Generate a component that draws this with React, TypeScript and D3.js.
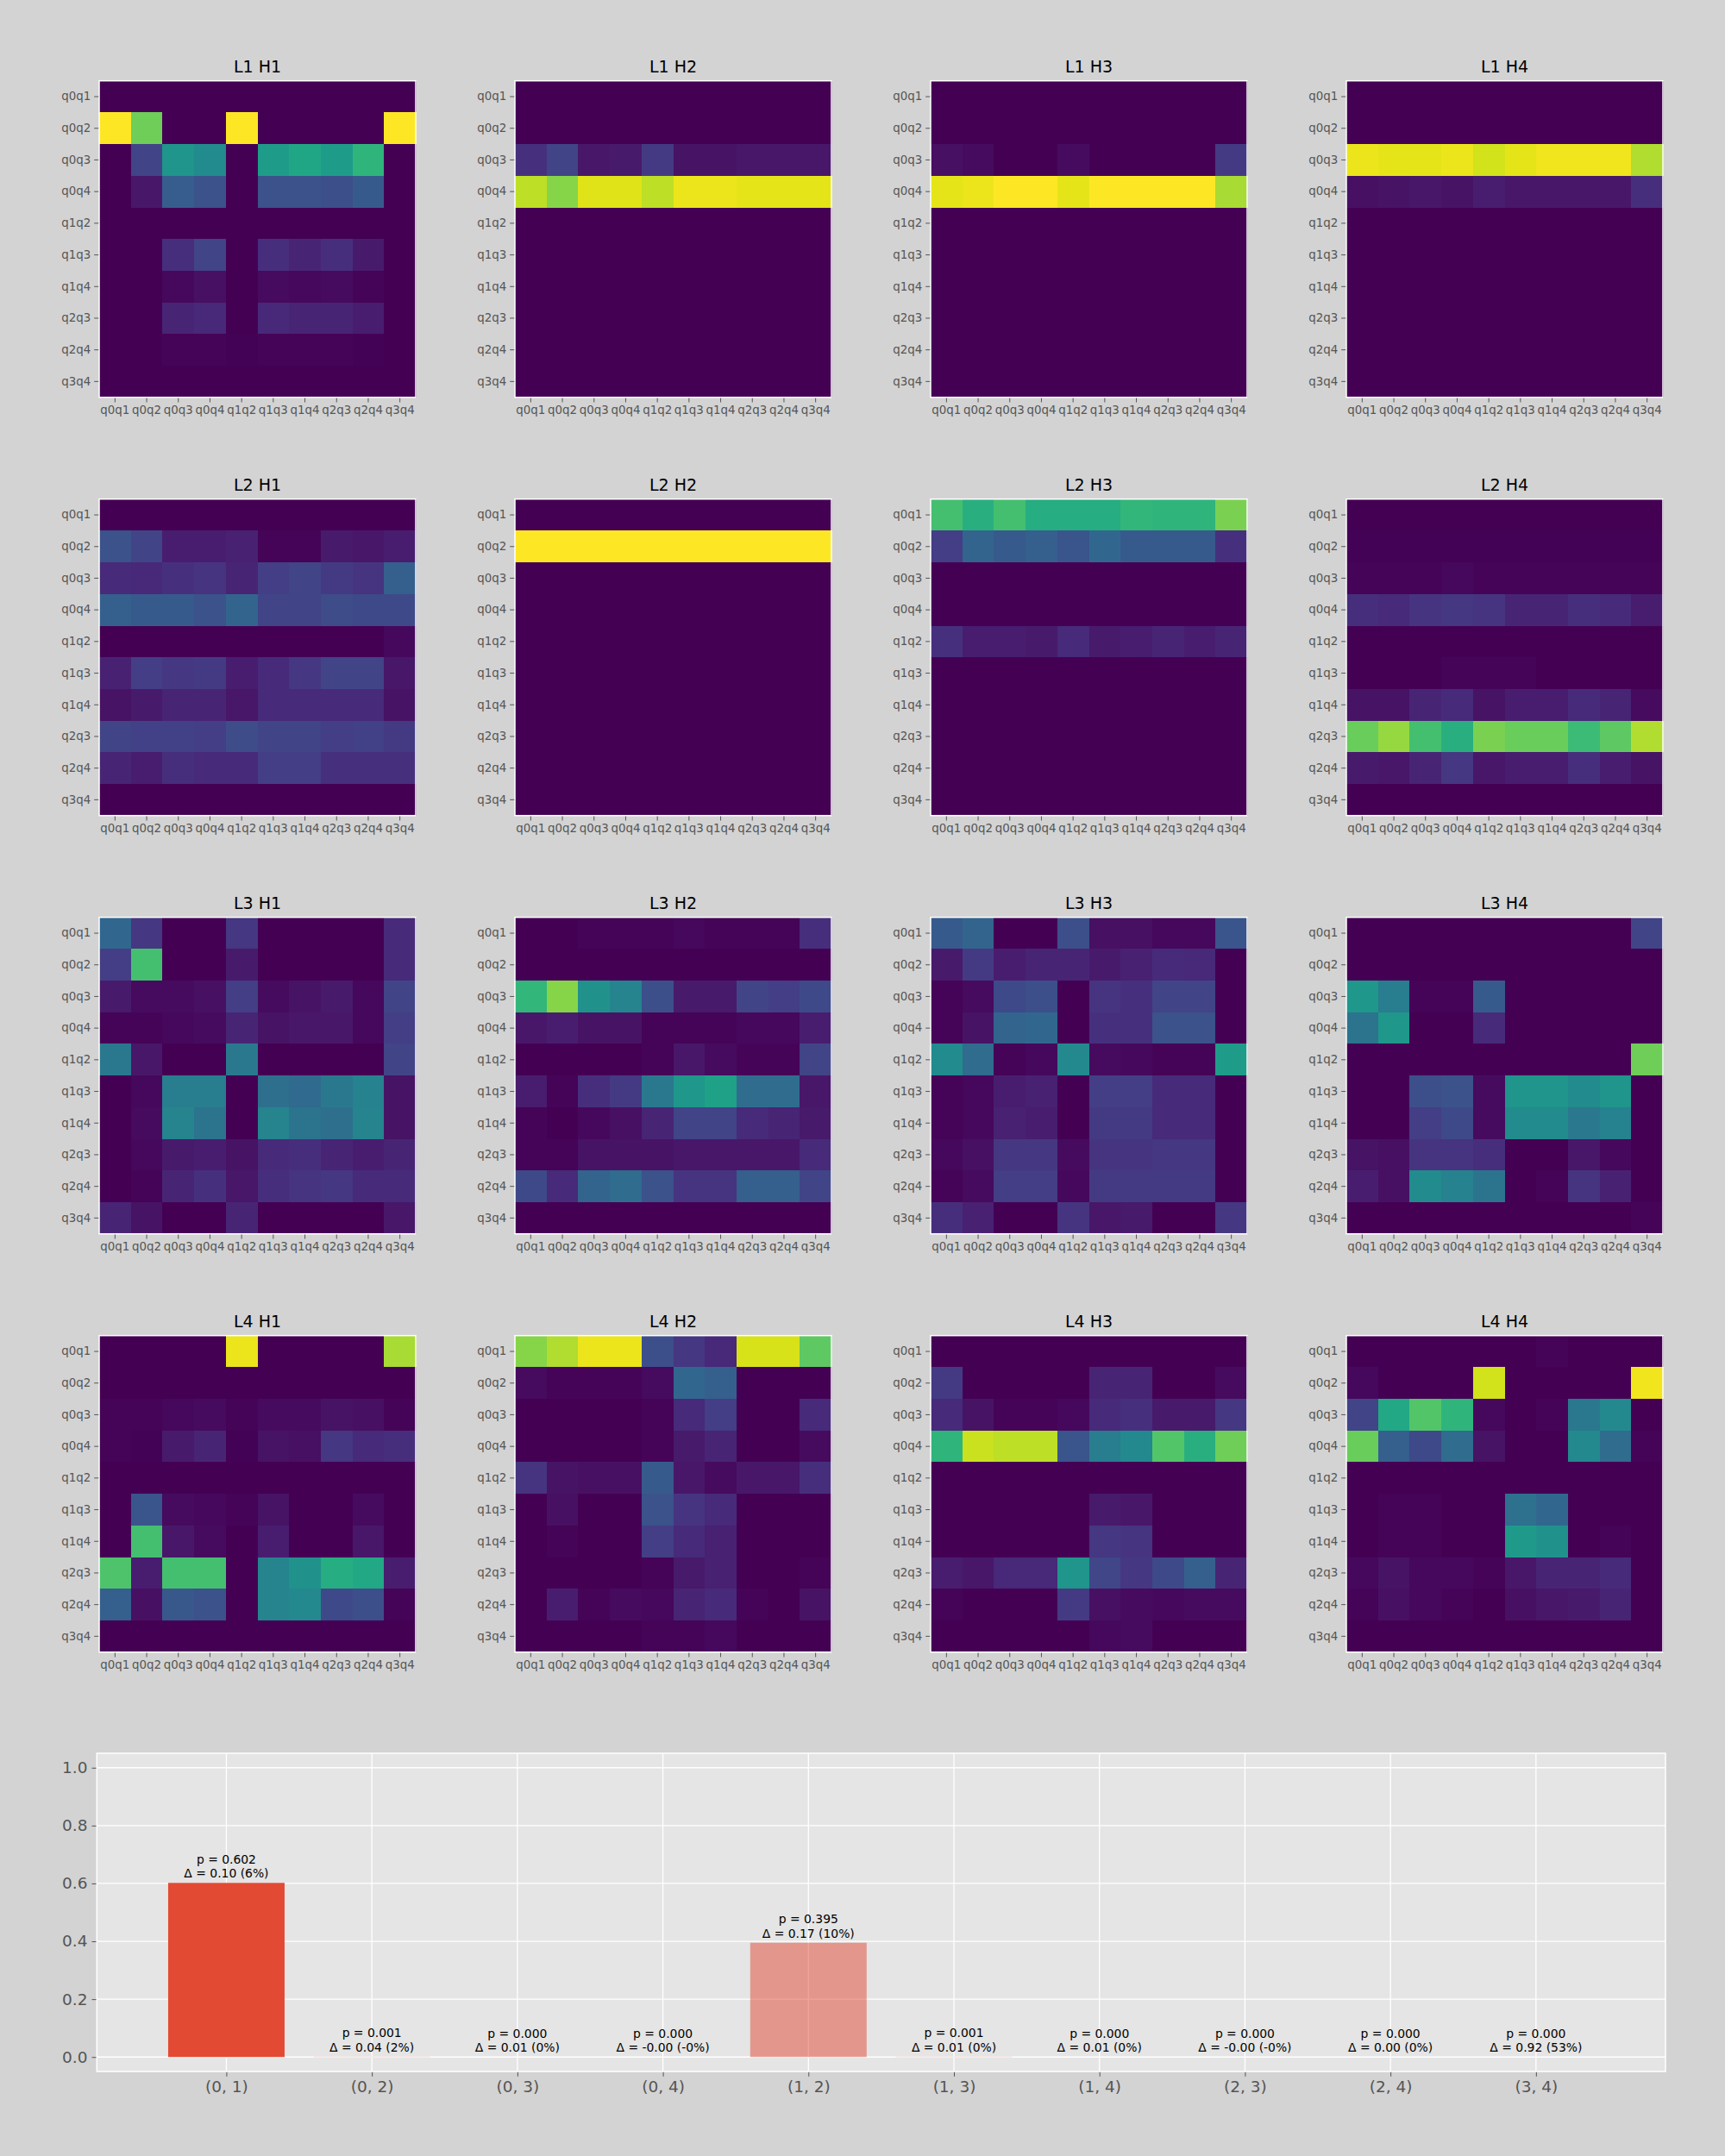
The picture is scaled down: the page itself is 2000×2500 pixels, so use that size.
import React, { useEffect, useRef } from 'react';
import * as d3 from 'd3';

// qubit pair labels, used on both heatmap axes
const pairs = ['q0q1', 'q0q2', 'q0q3', 'q0q4', 'q1q2', 'q1q3', 'q1q4', 'q2q3', 'q2q4', 'q3q4'];

const l1h1 = [
  [0, 0, 0, 0, 0, 0, 0, 0, 0, 0],
  [1.0, 0.78, 0, 0, 1.0, 0, 0, 0, 0, 1.0],
  [0, 0.2, 0.52, 0.48, 0, 0.55, 0.59, 0.55, 0.65, 0],
  [0, 0.06, 0.29, 0.25, 0, 0.25, 0.25, 0.24, 0.28, 0],
  [0, 0, 0, 0, 0, 0, 0, 0, 0, 0],
  [0, 0, 0.13, 0.2, 0, 0.13, 0.1, 0.13, 0.07, 0],
  [0, 0, 0.02, 0.04, 0, 0.03, 0.02, 0.03, 0.01, 0],
  [0, 0, 0.1, 0.11, 0, 0.11, 0.1, 0.1, 0.08, 0],
  [0, 0, 0.01, 0.01, 0.005, 0.01, 0.01, 0.01, 0.005, 0],
  [0, 0, 0, 0, 0, 0, 0, 0, 0, 0],
];
const l1h2 = [
  [0, 0, 0, 0, 0, 0, 0, 0, 0, 0],
  [0, 0, 0, 0, 0, 0, 0, 0, 0, 0],
  [0.14, 0.2, 0.06, 0.07, 0.17, 0.05, 0.05, 0.06, 0.06, 0.06],
  [0.9, 0.82, 0.95, 0.95, 0.9, 0.97, 0.97, 0.96, 0.96, 0.96],
  [0, 0, 0, 0, 0, 0, 0, 0, 0, 0],
  [0, 0, 0, 0, 0, 0, 0, 0, 0, 0],
  [0, 0, 0, 0, 0, 0, 0, 0, 0, 0],
  [0, 0, 0, 0, 0, 0, 0, 0, 0, 0],
  [0, 0, 0, 0, 0, 0, 0, 0, 0, 0],
  [0, 0, 0, 0, 0, 0, 0, 0, 0, 0],
];
const l1h3 = [
  [0, 0, 0, 0, 0, 0, 0, 0, 0, 0],
  [0, 0, 0, 0, 0, 0, 0, 0, 0, 0],
  [0.04, 0.03, 0, 0, 0.03, 0, 0, 0, 0, 0.17],
  [0.96, 0.97, 1.0, 1.0, 0.96, 1.0, 1.0, 1.0, 1.0, 0.87],
  [0, 0, 0, 0, 0, 0, 0, 0, 0, 0],
  [0, 0, 0, 0, 0, 0, 0, 0, 0, 0],
  [0, 0, 0, 0, 0, 0, 0, 0, 0, 0],
  [0, 0, 0, 0, 0, 0, 0, 0, 0, 0],
  [0, 0, 0, 0, 0, 0, 0, 0, 0, 0],
  [0, 0, 0, 0, 0, 0, 0, 0, 0, 0],
];
const l1h4 = [
  [0, 0, 0, 0, 0, 0, 0, 0, 0, 0],
  [0, 0, 0, 0, 0, 0, 0, 0, 0, 0],
  [0.97, 0.96, 0.96, 0.97, 0.93, 0.96, 0.98, 0.98, 0.98, 0.88],
  [0.04, 0.05, 0.06, 0.05, 0.08, 0.06, 0.06, 0.06, 0.06, 0.13],
  [0, 0, 0, 0, 0, 0, 0, 0, 0, 0],
  [0, 0, 0, 0, 0, 0, 0, 0, 0, 0],
  [0, 0, 0, 0, 0, 0, 0, 0, 0, 0],
  [0, 0, 0, 0, 0, 0, 0, 0, 0, 0],
  [0, 0, 0, 0, 0, 0, 0, 0, 0, 0],
  [0, 0, 0, 0, 0, 0, 0, 0, 0, 0],
];
const l2h1 = [
  [0, 0, 0, 0, 0, 0, 0, 0, 0, 0],
  [0.25, 0.2, 0.08, 0.08, 0.09, 0.01, 0.01, 0.07, 0.06, 0.08],
  [0.12, 0.11, 0.14, 0.15, 0.1, 0.18, 0.2, 0.17, 0.15, 0.3],
  [0.3, 0.28, 0.28, 0.25, 0.32, 0.2, 0.2, 0.23, 0.22, 0.22],
  [0, 0, 0, 0, 0, 0, 0, 0, 0, 0.02],
  [0.09, 0.18, 0.16, 0.17, 0.08, 0.12, 0.16, 0.2, 0.2, 0.06],
  [0.05, 0.07, 0.1, 0.1, 0.06, 0.12, 0.12, 0.12, 0.12, 0.05],
  [0.2, 0.19, 0.19, 0.18, 0.23, 0.2, 0.2, 0.18, 0.19, 0.17],
  [0.1, 0.08, 0.13, 0.12, 0.12, 0.18, 0.18, 0.14, 0.14, 0.14],
  [0, 0, 0, 0, 0, 0, 0, 0, 0, 0],
];
const l2h2 = [
  [0, 0, 0, 0, 0, 0, 0, 0, 0, 0],
  [1, 1, 1, 1, 1, 1, 1, 1, 1, 1],
  [0, 0, 0, 0, 0, 0, 0, 0, 0, 0],
  [0, 0, 0, 0, 0, 0, 0, 0, 0, 0],
  [0, 0, 0, 0, 0, 0, 0, 0, 0, 0],
  [0, 0, 0, 0, 0, 0, 0, 0, 0, 0],
  [0, 0, 0, 0, 0, 0, 0, 0, 0, 0],
  [0, 0, 0, 0, 0, 0, 0, 0, 0, 0],
  [0, 0, 0, 0, 0, 0, 0, 0, 0, 0],
  [0, 0, 0, 0, 0, 0, 0, 0, 0, 0],
];
const l2h3 = [
  [0.7, 0.63, 0.7, 0.62, 0.62, 0.62, 0.66, 0.65, 0.65, 0.8],
  [0.18, 0.32, 0.28, 0.3, 0.26, 0.33, 0.28, 0.28, 0.28, 0.14],
  [0, 0, 0, 0, 0, 0, 0, 0, 0, 0],
  [0, 0, 0, 0, 0, 0, 0, 0, 0, 0],
  [0.14, 0.08, 0.08, 0.07, 0.12, 0.07, 0.08, 0.1, 0.08, 0.1],
  [0, 0, 0, 0, 0, 0, 0, 0, 0, 0],
  [0, 0, 0, 0, 0, 0, 0, 0, 0, 0],
  [0, 0, 0, 0, 0, 0, 0, 0, 0, 0],
  [0, 0, 0, 0, 0, 0, 0, 0, 0, 0],
  [0, 0, 0, 0, 0, 0, 0, 0, 0, 0],
];
const l2h4 = [
  [0, 0, 0, 0, 0, 0, 0, 0, 0, 0],
  [0.005, 0.005, 0.005, 0.005, 0.005, 0.005, 0.005, 0.005, 0.005, 0.005],
  [0.01, 0.01, 0.01, 0.02, 0.01, 0.01, 0.01, 0.01, 0.01, 0.01],
  [0.13, 0.12, 0.15, 0.16, 0.15, 0.1, 0.1, 0.13, 0.12, 0.08],
  [0, 0, 0, 0, 0, 0, 0, 0, 0, 0],
  [0, 0, 0, 0.01, 0.01, 0.01, 0, 0, 0, 0],
  [0.05, 0.05, 0.1, 0.12, 0.05, 0.08, 0.08, 0.12, 0.1, 0.03],
  [0.77, 0.84, 0.7, 0.63, 0.8, 0.77, 0.77, 0.68, 0.75, 0.88],
  [0.07, 0.06, 0.1, 0.16, 0.06, 0.08, 0.08, 0.13, 0.08, 0.05],
  [0, 0, 0, 0, 0, 0, 0, 0, 0, 0],
];
const l3h1 = [
  [0.33, 0.16, 0, 0, 0.16, 0, 0, 0, 0, 0.12],
  [0.18, 0.7, 0, 0, 0.07, 0, 0, 0, 0, 0.12],
  [0.07, 0.03, 0.03, 0.04, 0.18, 0.03, 0.05, 0.07, 0.02, 0.2],
  [0.01, 0.01, 0.02, 0.03, 0.1, 0.05, 0.06, 0.06, 0.02, 0.18],
  [0.4, 0.06, 0, 0, 0.4, 0, 0, 0, 0, 0.2],
  [0, 0.02, 0.42, 0.42, 0, 0.36, 0.34, 0.4, 0.44, 0.05],
  [0, 0.03, 0.45, 0.38, 0, 0.45, 0.38, 0.36, 0.45, 0.05],
  [0, 0.02, 0.07, 0.08, 0.05, 0.12, 0.13, 0.1, 0.08, 0.1],
  [0, 0.01, 0.1, 0.14, 0.06, 0.13, 0.15, 0.16, 0.12, 0.12],
  [0.1, 0.05, 0, 0, 0.1, 0, 0, 0, 0, 0.06],
];
const l3h2 = [
  [0, 0, 0.01, 0.01, 0.01, 0.02, 0.01, 0.01, 0.01, 0.13],
  [0, 0, 0, 0, 0, 0, 0, 0, 0, 0],
  [0.66, 0.82, 0.5, 0.45, 0.24, 0.07, 0.07, 0.2, 0.18, 0.22],
  [0.06, 0.08, 0.05, 0.05, 0.01, 0.01, 0.01, 0.02, 0.02, 0.08],
  [0, 0, 0, 0, 0.01, 0.06, 0.03, 0.01, 0.01, 0.2],
  [0.08, 0.01, 0.13, 0.17, 0.4, 0.53, 0.57, 0.35, 0.35, 0.06],
  [0.01, 0, 0.02, 0.04, 0.1, 0.2, 0.2, 0.12, 0.1, 0.07],
  [0.01, 0.01, 0.05, 0.05, 0.05, 0.06, 0.06, 0.06, 0.06, 0.12],
  [0.22, 0.12, 0.32, 0.35, 0.25, 0.15, 0.15, 0.3, 0.3, 0.2],
  [0, 0, 0, 0, 0, 0, 0, 0, 0, 0],
];
const l3h3 = [
  [0.28, 0.32, 0, 0, 0.24, 0.04, 0.04, 0.02, 0.02, 0.26],
  [0.07, 0.17, 0.08, 0.1, 0.1, 0.07, 0.09, 0.12, 0.11, 0],
  [0.01, 0.03, 0.22, 0.24, 0, 0.15, 0.14, 0.2, 0.2, 0],
  [0.01, 0.05, 0.32, 0.33, 0, 0.14, 0.14, 0.25, 0.25, 0],
  [0.48, 0.35, 0.01, 0.02, 0.47, 0.03, 0.02, 0.01, 0.01, 0.55],
  [0.01, 0.02, 0.08, 0.09, 0, 0.18, 0.18, 0.12, 0.12, 0],
  [0.01, 0.02, 0.09, 0.08, 0, 0.17, 0.17, 0.12, 0.12, 0],
  [0.02, 0.04, 0.16, 0.16, 0.03, 0.15, 0.15, 0.16, 0.16, 0],
  [0.01, 0.03, 0.18, 0.18, 0.02, 0.17, 0.17, 0.17, 0.17, 0],
  [0.13, 0.09, 0, 0, 0.15, 0.06, 0.07, 0, 0, 0.16],
];
const l3h4 = [
  [0, 0, 0, 0, 0, 0, 0, 0, 0, 0.2],
  [0, 0, 0, 0, 0, 0, 0, 0, 0, 0],
  [0.53, 0.42, 0.01, 0.01, 0.28, 0, 0, 0, 0, 0],
  [0.38, 0.53, 0, 0, 0.12, 0, 0, 0, 0, 0],
  [0, 0, 0, 0, 0, 0, 0, 0, 0, 0.78],
  [0, 0, 0.24, 0.25, 0.03, 0.52, 0.52, 0.48, 0.52, 0],
  [0, 0, 0.18, 0.22, 0.03, 0.48, 0.48, 0.4, 0.44, 0],
  [0.05, 0.04, 0.15, 0.15, 0.13, 0, 0, 0.06, 0.02, 0],
  [0.08, 0.04, 0.48, 0.44, 0.38, 0, 0.01, 0.15, 0.09, 0],
  [0, 0, 0, 0, 0, 0, 0, 0, 0, 0.01],
];
const l4h1 = [
  [0, 0, 0, 0, 0.97, 0, 0, 0, 0, 0.87],
  [0, 0, 0, 0, 0, 0, 0, 0, 0, 0],
  [0.01, 0.01, 0.02, 0.03, 0.01, 0.03, 0.03, 0.05, 0.04, 0.01],
  [0.01, 0.005, 0.07, 0.1, 0.005, 0.05, 0.04, 0.16, 0.12, 0.13],
  [0, 0, 0, 0, 0, 0, 0, 0, 0, 0],
  [0, 0.26, 0.03, 0.02, 0.01, 0.05, 0, 0, 0.03, 0],
  [0, 0.7, 0.06, 0.03, 0, 0.08, 0, 0, 0.06, 0],
  [0.72, 0.08, 0.7, 0.7, 0, 0.45, 0.5, 0.62, 0.6, 0.08],
  [0.3, 0.04, 0.27, 0.25, 0, 0.45, 0.47, 0.22, 0.24, 0.01],
  [0, 0, 0, 0, 0, 0, 0, 0, 0, 0],
];
const l4h2 = [
  [0.82, 0.88, 0.97, 0.97, 0.24, 0.16, 0.11, 0.94, 0.94, 0.75],
  [0.03, 0.01, 0.01, 0.01, 0.03, 0.33, 0.3, 0, 0, 0],
  [0, 0, 0, 0, 0.01, 0.12, 0.18, 0, 0, 0.12],
  [0, 0, 0, 0, 0.01, 0.07, 0.1, 0, 0, 0.03],
  [0.15, 0.05, 0.04, 0.04, 0.28, 0.06, 0.03, 0.06, 0.06, 0.13],
  [0, 0.04, 0, 0, 0.25, 0.15, 0.12, 0, 0, 0],
  [0, 0.01, 0, 0, 0.18, 0.12, 0.09, 0, 0, 0],
  [0, 0, 0, 0, 0.01, 0.07, 0.09, 0, 0, 0.01],
  [0, 0.08, 0.01, 0.03, 0.02, 0.1, 0.12, 0.01, 0, 0.05],
  [0, 0, 0, 0, 0.01, 0.01, 0.02, 0, 0, 0],
];
const l4h3 = [
  [0, 0, 0, 0, 0, 0, 0, 0, 0, 0],
  [0.17, 0, 0, 0, 0, 0.1, 0.1, 0, 0, 0.03],
  [0.12, 0.05, 0.01, 0.01, 0.02, 0.12, 0.14, 0.07, 0.07, 0.16],
  [0.65, 0.92, 0.9, 0.9, 0.26, 0.42, 0.47, 0.73, 0.63, 0.78],
  [0, 0, 0, 0, 0, 0, 0, 0, 0, 0],
  [0, 0, 0, 0, 0, 0.07, 0.06, 0, 0, 0],
  [0, 0, 0, 0, 0, 0.16, 0.15, 0, 0, 0],
  [0.08, 0.06, 0.11, 0.11, 0.52, 0.21, 0.16, 0.22, 0.3, 0.1],
  [0.01, 0, 0, 0, 0.17, 0.04, 0.03, 0.02, 0.03, 0.03],
  [0, 0, 0, 0, 0, 0.02, 0.03, 0, 0, 0],
];
const l4h4 = [
  [0, 0, 0, 0, 0, 0, 0.01, 0, 0, 0],
  [0.02, 0, 0, 0, 0.93, 0, 0, 0, 0, 0.98],
  [0.2, 0.6, 0.73, 0.65, 0.02, 0, 0.01, 0.4, 0.47, 0],
  [0.77, 0.3, 0.22, 0.35, 0.05, 0, 0, 0.47, 0.35, 0.01],
  [0, 0, 0, 0, 0, 0, 0, 0, 0, 0],
  [0, 0.01, 0.01, 0, 0, 0.37, 0.33, 0, 0, 0],
  [0, 0.01, 0.01, 0, 0, 0.54, 0.5, 0, 0.01, 0],
  [0.02, 0.05, 0.02, 0.02, 0.01, 0.06, 0.1, 0.1, 0.12, 0],
  [0.01, 0.04, 0.02, 0.01, 0, 0.04, 0.06, 0.07, 0.1, 0],
  [0, 0, 0, 0, 0, 0, 0, 0, 0, 0],
];

const heatmaps = [l1h1, l1h2, l1h3, l1h4, l2h1, l2h2, l2h3, l2h4, l3h1, l3h2, l3h3, l3h4, l4h1, l4h2, l4h3, l4h4];
const heatmapTitles = ['L1 H1', 'L1 H2', 'L1 H3', 'L1 H4', 'L2 H1', 'L2 H2', 'L2 H3', 'L2 H4',
  'L3 H1', 'L3 H2', 'L3 H3', 'L3 H4', 'L4 H1', 'L4 H2', 'L4 H3', 'L4 H4'];

// bottom bar chart
const barLabels = ['(0, 1)', '(0, 2)', '(0, 3)', '(0, 4)', '(1, 2)', '(1, 3)', '(1, 4)', '(2, 3)', '(2, 4)', '(3, 4)'];
const pValues = [0.602, 0.001, 0.000, 0.000, 0.395, 0.001, 0.000, 0.000, 0.000, 0.000];
const deltaLabels = ['0.10 (6%)', '0.04 (2%)', '0.01 (0%)', '-0.00 (-0%)', '0.17 (10%)',
  '0.01 (0%)', '0.01 (0%)', '-0.00 (-0%)', '0.00 (0%)', '0.92 (53%)'];
const yTicks = [0, 0.2, 0.4, 0.6, 0.8, 1.0];

const FONT = 'DejaVu Sans, sans-serif';
const TICK_COLOR = '#555555';

const App = () => {
  const svgRef = useRef(null);

  useEffect(() => {
    const width = 2000;
    const height = 2500;
    const svg = d3.select(svgRef.current)
      .attr('width', width)
      .attr('height', height)
      .style('background', '#d3d3d3');
    svg.selectAll('*').remove();

    const color = d3.scaleSequential(d3.interpolateViridis).domain([0, 1]);

    const size = 367;
    const colLeft = [115, 597, 1079, 1561];
    const rowTop = [93.7, 578.7, 1063.7, 1548.7];

    heatmaps.forEach((grid, k) => {
      const left = colLeft[k % 4];
      const top = rowTop[Math.floor(k / 4)];
      const x = d3.scaleBand().domain(pairs).range([0, size]);
      const y = d3.scaleBand().domain(pairs).range([0, size]);

      const g = svg.append('g').attr('transform', `translate(${left},${top})`);

      const cells = grid.flatMap((row, r) => row.map((v, c) => ({ r, c, v })));
      g.selectAll('rect.cell')
        .data(cells)
        .enter().append('rect')
        .attr('class', 'cell')
        .attr('x', d => x(pairs[d.c]))
        .attr('y', d => y(pairs[d.r]))
        .attr('width', x.bandwidth() + 0.6)
        .attr('height', y.bandwidth() + 0.6)
        .attr('shape-rendering', 'crispEdges')
        .attr('fill', d => color(d.v));

      g.append('rect')
        .attr('x', 0).attr('y', 0)
        .attr('width', size).attr('height', size)
        .attr('fill', 'none')
        .attr('stroke', '#ffffff')
        .attr('stroke-width', 1.5);

      const xAxis = g.append('g')
        .attr('transform', `translate(0,${size + 0.8})`)
        .call(d3.axisBottom(x).tickSize(5).tickPadding(4));
      const yAxis = g.append('g')
        .attr('transform', 'translate(-0.8,0)')
        .call(d3.axisLeft(y).tickSize(5).tickPadding(4));
      [xAxis, yAxis].forEach(a => {
        a.select('.domain').remove();
        a.selectAll('line').attr('stroke', TICK_COLOR).attr('stroke-width', 1);
        a.selectAll('text')
          .attr('fill', TICK_COLOR)
          .style('font-family', FONT)
          .style('font-size', '13.4px');
      });

      g.append('text')
        .attr('x', size / 2)
        .attr('y', -9.7)
        .attr('text-anchor', 'middle')
        .style('font-family', FONT)
        .style('font-size', '19px')
        .attr('fill', '#000000')
        .text(heatmapTitles[k]);
    });

    // bar chart
    const bx = { left: 112.3, right: 1931, top: 2033, bottom: 2402 };
    const xScale = d3.scaleLinear().domain([-0.89, 9.89]).range([bx.left, bx.right]);
    const yScale = d3.scaleLinear().domain([-0.05, 1.05]).range([bx.bottom, bx.top]);
    const barW = xScale(0.8) - xScale(0);
    const maxP = d3.max(pValues);

    svg.append('rect')
      .attr('x', bx.left).attr('y', bx.top)
      .attr('width', bx.right - bx.left).attr('height', bx.bottom - bx.top)
      .attr('fill', '#e5e5e5')
      .attr('stroke', '#ffffff')
      .attr('stroke-width', 1.5);

    svg.append('g').selectAll('line')
      .data(yTicks)
      .enter().append('line')
      .attr('x1', bx.left).attr('x2', bx.right)
      .attr('y1', d => yScale(d)).attr('y2', d => yScale(d))
      .attr('stroke', '#ffffff').attr('stroke-width', 1.3);

    svg.append('g').selectAll('line')
      .data(barLabels)
      .enter().append('line')
      .attr('x1', (d, i) => xScale(i)).attr('x2', (d, i) => xScale(i))
      .attr('y1', bx.top).attr('y2', bx.bottom)
      .attr('stroke', '#ffffff').attr('stroke-width', 1.3);

    svg.append('g').selectAll('rect')
      .data(pValues)
      .enter().append('rect')
      .attr('x', (d, i) => xScale(i) - barW / 2)
      .attr('y', d => yScale(d))
      .attr('width', barW)
      .attr('height', d => yScale(0) - yScale(d))
      .attr('fill', '#E24A33')
      .attr('fill-opacity', d => (d === maxP ? 1 : 0.5));

    const ann = svg.append('g').selectAll('text')
      .data(pValues)
      .enter().append('text')
      .attr('text-anchor', 'middle')
      .style('font-family', FONT)
      .style('font-size', '13.9px')
      .attr('fill', '#000000');
    ann.append('tspan')
      .attr('x', (d, i) => xScale(i))
      .attr('y', d => yScale(d) - 6 - 16.7)
      .text(d => `p = ${d.toFixed(3)}`);
    ann.append('tspan')
      .attr('x', (d, i) => xScale(i))
      .attr('y', d => yScale(d) - 6)
      .text((d, i) => `Δ = ${deltaLabels[i]}`);

    const xb = svg.append('g')
      .attr('transform', `translate(0,${bx.bottom + 0.8})`)
      .call(d3.axisBottom(xScale)
        .tickValues(d3.range(barLabels.length))
        .tickFormat((d) => barLabels[d as number])
        .tickSize(5).tickPadding(5));
    const yb = svg.append('g')
      .attr('transform', `translate(${bx.left - 0.8},0)`)
      .call(d3.axisLeft(yScale).tickValues(yTicks).tickFormat(d3.format('.1f')).tickSize(5).tickPadding(5));
    [xb, yb].forEach(a => {
      a.select('.domain').remove();
      a.selectAll('line').attr('stroke', TICK_COLOR).attr('stroke-width', 1);
      a.selectAll('text')
        .attr('fill', TICK_COLOR)
        .style('font-family', FONT)
        .style('font-size', '18.5px');
    });
  }, []);

  return (
    <svg ref={svgRef} style={{ position: 'absolute', left: 0, top: 0, display: 'block' }}></svg>
  );
};

export default App;
